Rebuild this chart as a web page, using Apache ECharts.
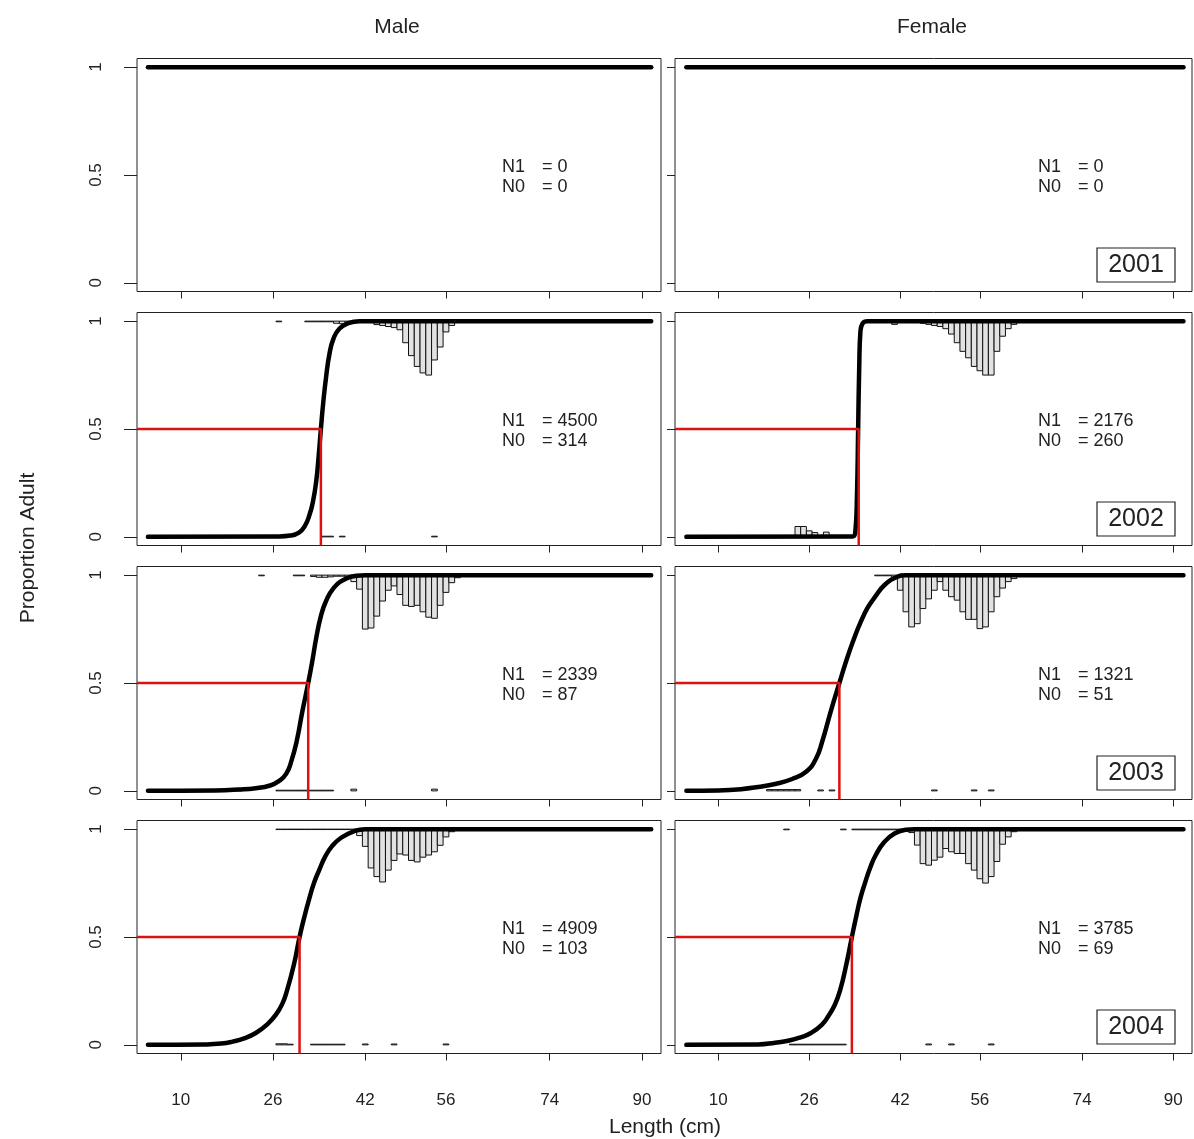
<!DOCTYPE html>
<html><head><meta charset="utf-8">
<script src="https://cdn.jsdelivr.net/npm/echarts@6/dist/echarts.min.js"></script>
<style>html,body{margin:0;padding:0;background:#fff}#c{width:1194px;height:1139px}</style>
</head><body><div id="c"></div>
<script>
// ---------- data ----------
const years = ['2001', '2002', '2003', '2004'];
const sexes = ['Male', 'Female'];
const xTicks = [10, 26, 42, 56, 74, 90];
const yTicks = [0, 0.5, 1];

const n1Male = [0, 4500, 2339, 4909];
const n0Male = [0, 314, 87, 103];
const n1Female = [0, 2176, 1321, 3785];
const n0Female = [0, 260, 51, 69];

const l50Male = [null, 34.3, 32.1, 30.6];
const l50Female = [null, 34.7, 31.3, 33.5];

// fitted maturity curves [length, proportion adult]
const curveM2001 = [[4.3, 1], [91.6, 1]];
const curveF2001 = [[4.4, 1], [91.8, 1]];
const curveM2002 = [[4.3, 0], [27, 0.002], [29, 0.006], [30.5, 0.02], [31.5, 0.05], [32.3, 0.1], [32.9, 0.16], [33.5, 0.26], [33.9, 0.37], [34.3, 0.5], [34.7, 0.62], [35.2, 0.74], [35.8, 0.85], [36.5, 0.92], [37.5, 0.965], [39, 0.99], [41, 1], [91.6, 1]];
const curveF2002 = [[4.4, 0], [33.6, 0.002], [34.1, 0.02], [34.4, 0.2], [34.6, 0.5], [34.8, 0.8], [35.0, 0.95], [35.4, 0.99], [36.2, 1], [91.8, 1]];
const curveM2003 = [[4.3, 0], [16, 0.002], [20, 0.006], [23, 0.012], [25.5, 0.025], [27, 0.045], [28.3, 0.08], [29.2, 0.14], [30.1, 0.23], [31.1, 0.37], [32.1, 0.5], [32.8, 0.6], [33.5, 0.71], [34.3, 0.81], [35.2, 0.88], [36.5, 0.94], [38.2, 0.977], [40.5, 0.997], [42, 1], [91.6, 1]];
const curveF2003 = [[4.4, 0], [10, 0.002], [14, 0.008], [17, 0.018], [20, 0.032], [23, 0.055], [25.5, 0.09], [27.2, 0.15], [28.3, 0.23], [29.8, 0.37], [31.3, 0.5], [32.6, 0.61], [33.8, 0.7], [35.0, 0.78], [36.3, 0.85], [37.6, 0.9], [39.2, 0.953], [41.3, 0.99], [43, 1], [91.8, 1]];
const curveM2004 = [[4.3, 0], [14, 0.002], [17, 0.006], [19, 0.015], [21, 0.03], [23, 0.055], [25, 0.095], [26.5, 0.14], [27.6, 0.19], [28.4, 0.25], [29.6, 0.37], [30.6, 0.5], [31.4, 0.59], [32.2, 0.67], [33.1, 0.75], [34.0, 0.81], [35.0, 0.87], [36.2, 0.92], [37.8, 0.96], [40, 0.99], [42, 1], [91.6, 1]];
const curveF2004 = [[4.4, 0], [17, 0.002], [20, 0.01], [22.5, 0.02], [24.5, 0.035], [26.3, 0.055], [28.2, 0.093], [29.4, 0.135], [30.5, 0.186], [31.4, 0.25], [32.5, 0.37], [33.5, 0.5], [34.3, 0.6], [35.0, 0.68], [35.8, 0.75], [36.7, 0.82], [37.7, 0.88], [39.2, 0.94], [41, 0.98], [43, 0.997], [44.5, 1], [91.8, 1]];

// length-frequency of adults (hanging from 1) and juveniles (rising from 0): [length bin, scaled frequency]
const adultM2001 = [];
const juvM2001 = [];
const adultF2001 = [];
const juvF2001 = [];
const adultM2002 = [[27, 0.003], [32, 0.003], [33, 0.003], [34, 0.003], [35, 0.003], [36, 0.003], [37, 0.01], [38, 0.012], [39, 0.005], [40, 0.004], [41, 0.004], [42, 0.004], [43, 0.006], [44, 0.016], [45, 0.02], [46, 0.025], [47, 0.03], [48, 0.04], [49, 0.1], [50, 0.16], [51, 0.21], [52, 0.24], [53, 0.25], [54, 0.18], [55, 0.12], [56, 0.05], [57, 0.02], [58, 0.005]];
const juvM2002 = [[23, 0.003], [24, 0.003], [25, 0.003], [26, 0.003], [27, 0.003], [28, 0.003], [35, 0.003], [36, 0.003], [38, 0.003], [54, 0.003]];
const adultF2002 = [[40, 0.004], [41, 0.015], [42, 0.004], [46, 0.01], [47, 0.015], [48, 0.02], [49, 0.025], [50, 0.035], [51, 0.06], [52, 0.1], [53, 0.14], [54, 0.17], [55, 0.21], [56, 0.23], [57, 0.25], [58, 0.25], [59, 0.14], [60, 0.07], [61, 0.035], [62, 0.015]];
const juvF2002 = [[24, 0.048], [25, 0.048], [26, 0.028], [27, 0.02], [28, 0.005], [29, 0.022]];
const adultM2003 = [[24, 0.003], [30, 0.003], [31, 0.003], [33, 0.006], [34, 0.01], [35, 0.01], [36, 0.008], [37, 0.005], [38, 0.005], [39, 0.01], [40, 0.03], [41, 0.065], [42, 0.25], [43, 0.245], [44, 0.19], [45, 0.12], [46, 0.07], [47, 0.05], [48, 0.09], [49, 0.14], [50, 0.145], [51, 0.14], [52, 0.17], [53, 0.195], [54, 0.2], [55, 0.14], [56, 0.08], [57, 0.035], [58, 0.012]];
const juvM2003 = [[19, 0.003], [20, 0.003], [27, 0.003], [28, 0.003], [29, 0.003], [30, 0.003], [31, 0.003], [32, 0.003], [33, 0.003], [34, 0.003], [35, 0.003], [36, 0.003], [40, 0.008], [54, 0.008]];
const adultF2003 = [[38, 0.003], [39, 0.003], [40, 0.003], [41, 0.01], [42, 0.07], [43, 0.17], [44, 0.24], [45, 0.225], [46, 0.155], [47, 0.11], [48, 0.07], [49, 0.03], [50, 0.07], [51, 0.1], [52, 0.116], [53, 0.17], [54, 0.205], [55, 0.205], [56, 0.248], [57, 0.24], [58, 0.17], [59, 0.1], [60, 0.06], [61, 0.03], [62, 0.016]];
const juvF2003 = [[19, 0.006], [20, 0.006], [21, 0.006], [22, 0.006], [23, 0.006], [24, 0.006], [28, 0.004], [30, 0.004], [48, 0.004], [55, 0.004], [58, 0.004]];
const adultM2004 = [[27, 0.002], [28, 0.002], [29, 0.002], [30, 0.002], [31, 0.002], [32, 0.002], [33, 0.002], [34, 0.002], [35, 0.002], [36, 0.002], [37, 0.002], [38, 0.002], [39, 0.002], [40, 0.004], [41, 0.03], [42, 0.08], [43, 0.18], [44, 0.22], [45, 0.245], [46, 0.19], [47, 0.145], [48, 0.115], [49, 0.12], [50, 0.145], [51, 0.152], [52, 0.13], [53, 0.12], [54, 0.105], [55, 0.075], [56, 0.036], [57, 0.012]];
const juvM2004 = [[27, 0.005], [28, 0.005], [29, 0.003], [33, 0.003], [34, 0.003], [35, 0.003], [36, 0.003], [37, 0.003], [38, 0.003], [42, 0.004], [47, 0.004], [56, 0.004]];
const adultF2004 = [[22, 0.003], [32, 0.003], [34, 0.003], [35, 0.003], [36, 0.003], [37, 0.003], [38, 0.003], [39, 0.003], [40, 0.003], [41, 0.003], [42, 0.003], [43, 0.004], [44, 0.016], [45, 0.074], [46, 0.16], [47, 0.167], [48, 0.144], [49, 0.13], [50, 0.09], [51, 0.105], [52, 0.113], [53, 0.113], [54, 0.16], [55, 0.19], [56, 0.23], [57, 0.25], [58, 0.22], [59, 0.15], [60, 0.07], [61, 0.036], [62, 0.012]];
const juvF2004 = [[23, 0.003], [24, 0.003], [25, 0.003], [26, 0.003], [27, 0.003], [28, 0.003], [29, 0.003], [30, 0.003], [31, 0.003], [32, 0.003], [47, 0.004], [51, 0.004], [58, 0.004]];

// ---------- assemble ----------
const curves = [[curveM2001, curveF2001], [curveM2002, curveF2002], [curveM2003, curveF2003], [curveM2004, curveF2004]];
const adults = [[adultM2001, adultF2001], [adultM2002, adultF2002], [adultM2003, adultF2003], [adultM2004, adultF2004]];
const juvs = [[juvM2001, juvF2001], [juvM2002, juvF2002], [juvM2003, juvF2003], [juvM2004, juvF2004]];
const l50s = [l50Male, l50Female];
const n1s = [n1Male, n1Female];
const n0s = [n0Male, n0Female];

const X_MIN = 2.4, X_MAX = 93.3, Y_MIN = -0.04, Y_MAX = 1.04;
const colLeft = [137, 675], colWidth = [524, 517];
const rowTop0 = 58.5, rowStep = 254, rowHeight = 233;
const FONT = 'Liberation Sans, Arial, sans-serif';

const grids = [], xAxes = [], yAxes = [], series = [], graphics = [];

function histRender(base, dir) {
  return function (params, api) {
    const L = api.value(0), d = api.value(1);
    const p1 = api.coord([L - 0.5, base]);
    const p2 = api.coord([L + 0.5, base + dir * d]);
    return {
      type: 'rect',
      shape: { x: p1[0], y: Math.min(p1[1], p2[1]), width: p2[0] - p1[0], height: Math.abs(p2[1] - p1[1]) },
      style: { fill: '#e2e2e2', stroke: '#111', lineWidth: 1 }
    };
  };
}

let idx = 0;
for (let r = 0; r < 4; r++) {
  for (let c = 0; c < 2; c++) {
    const top = rowTop0 + r * rowStep;
    grids.push({ left: colLeft[c], top: top, width: colWidth[c], height: rowHeight, show: true,
      borderColor: '#222', borderWidth: 1, backgroundColor: 'transparent', containLabel: false });
    xAxes.push({ type: 'value', gridIndex: idx, min: X_MIN, max: X_MAX, position: 'bottom',
      splitLine: { show: false },
      axisLine: { show: false, onZero: false },
      axisTick: { show: true, length: 7, customValues: xTicks, lineStyle: { color: '#222', width: 1 } },
      axisLabel: { show: r === 3, customValues: xTicks, margin: 38, fontSize: 17, color: '#222', fontFamily: FONT }
    });
    yAxes.push({ type: 'value', gridIndex: idx, min: Y_MIN, max: Y_MAX,
      splitLine: { show: false },
      axisLine: { show: false, onZero: false },
      axisTick: { show: true, length: c === 0 ? 13 : 8, customValues: yTicks, lineStyle: { color: '#222', width: 1 } },
      axisLabel: { show: c === 0, customValues: yTicks, rotate: 90, margin: 32, fontSize: 17, color: '#222', fontFamily: FONT,
        formatter: v => (Math.abs(v - 0.5) < 1e-9 ? '0.5' : String(Math.round(v))) }
    });
    series.push({ type: 'custom', xAxisIndex: idx, yAxisIndex: idx, renderItem: histRender(1, -1),
      encode: { x: 0, y: 1 }, data: adults[r][c], z: 2, silent: true });
    series.push({ type: 'custom', xAxisIndex: idx, yAxisIndex: idx, renderItem: histRender(0, 1),
      encode: { x: 0, y: 1 }, data: juvs[r][c], z: 2, silent: true });
    series.push({ type: 'line', xAxisIndex: idx, yAxisIndex: idx, data: curves[r][c], showSymbol: false,
      smooth: 0.5, lineStyle: { color: '#000', width: 4.5, cap: 'round', join: 'round' }, z: 3, silent: true });
    const l50 = l50s[c][r];
    if (l50 !== null) {
      series.push({ type: 'line', xAxisIndex: idx, yAxisIndex: idx,
        data: [[X_MIN, 0.5], [l50, 0.5], [l50, Y_MIN]], showSymbol: false,
        lineStyle: { color: '#dd1111', width: 2.5 }, z: 4, silent: true });
    }
    // N1 / N0 text
    const tx = c === 0 ? 502 : 1038;
    const ty = 167 + r * rowStep;
    graphics.push({ type: 'text', x: tx, y: ty, style: { text: 'N1', font: '18px ' + FONT, fill: '#222', textVerticalAlign: 'middle' } });
    graphics.push({ type: 'text', x: tx + 40, y: ty, style: { text: '= ' + n1s[c][r], font: '18px ' + FONT, fill: '#222', textVerticalAlign: 'middle' } });
    graphics.push({ type: 'text', x: tx, y: ty + 20, style: { text: 'N0', font: '18px ' + FONT, fill: '#222', textVerticalAlign: 'middle' } });
    graphics.push({ type: 'text', x: tx + 40, y: ty + 20, style: { text: '= ' + n0s[c][r], font: '18px ' + FONT, fill: '#222', textVerticalAlign: 'middle' } });
    if (c === 1) {
      graphics.push({ type: 'rect', shape: { x: 1097, y: 248 + r * rowStep, width: 78, height: 34 },
        style: { fill: '#fff', stroke: '#222', lineWidth: 1.2 }, z: 10 });
      graphics.push({ type: 'text', x: 1136, y: 265.5 + r * rowStep, z: 11,
        style: { text: years[r], font: '25px ' + FONT, fill: '#222', textAlign: 'center', textVerticalAlign: 'middle' } });
    }
    idx++;
  }
}

graphics.push({ type: 'text', x: 397, y: 27, style: { text: sexes[0], font: '21px ' + FONT, fill: '#222', textAlign: 'center', textVerticalAlign: 'middle' } });
graphics.push({ type: 'text', x: 932, y: 27, style: { text: sexes[1], font: '21px ' + FONT, fill: '#222', textAlign: 'center', textVerticalAlign: 'middle' } });
graphics.push({ type: 'text', x: 665, y: 1127, style: { text: 'Length (cm)', font: '21px ' + FONT, fill: '#222', textAlign: 'center', textVerticalAlign: 'middle' } });
graphics.push({ type: 'text', x: 28, y: 548, rotation: Math.PI / 2, style: { text: 'Proportion Adult', font: '21px ' + FONT, fill: '#222', textAlign: 'center', textVerticalAlign: 'middle' } });

const chart = echarts.init(document.getElementById('c'), null, { renderer: 'canvas' });
chart.setOption({
  animation: false,
  backgroundColor: '#fff',
  grid: grids,
  xAxis: xAxes,
  yAxis: yAxes,
  series: series,
  graphic: graphics
});
</script>
</body></html>
